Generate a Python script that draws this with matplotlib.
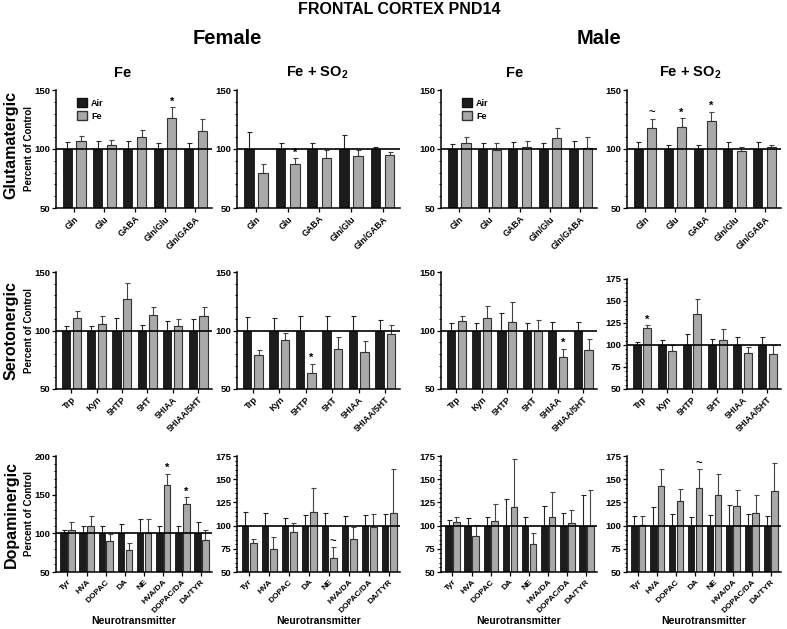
import numpy as np
import matplotlib
matplotlib.use('Agg')
import matplotlib.pyplot as plt
from matplotlib.ticker import MultipleLocator
from matplotlib.patches import Patch

plt.rcParams['font.family'] = ['Liberation Sans', 'DejaVu Sans']
plt.rcParams['font.weight'] = 'bold'
plt.rcParams['mathtext.fontset'] = 'custom'
plt.rcParams['mathtext.rm'] = 'Liberation Sans:bold'
plt.rcParams['mathtext.bf'] = 'Liberation Sans:bold'
plt.rcParams['mathtext.it'] = 'Liberation Sans:bold'

# 数据: Air 均为 100，误差为向上的 SEM
glut_labels = ['Gln', 'Glu', 'GABA', 'Gln/Glu', 'Gln/GABA']
sero_labels = ['Trp', 'Kyn', '5HTP', '5HT', '5HIAA', '5HIAA/5HT']
dopa_labels = ['Tyr', 'HVA', 'DOPAC', 'DA', 'NE', 'HVA/DA', 'DOPAC/DA', 'DA/TYR']

# Glutamatergic
f_fe_glut_air_sem = [6, 7, 7, 5, 5]
f_fe_glut_fe = [107, 103, 110, 126, 115]
f_fe_glut_fe_sem = [4, 5, 6, 9.5, 10.5]
f_so2_glut_air_sem = [14, 5, 5, 12, 2]
f_so2_glut_fe = [80, 87, 92, 94, 94.5]
f_so2_glut_fe_sem = [7, 5, 7, 5.5, 3]
m_fe_glut_air_sem = [4, 5, 6, 5, 6.5]
m_fe_glut_fe = [105, 99.5, 102, 109, 100.5]
m_fe_glut_fe_sem = [5.5, 5.5, 5, 9, 10]
m_so2_glut_air_sem = [6, 3.5, 3.5, 6, 6]
m_so2_glut_fe = [117.5, 119, 123.5, 98, 102]
m_so2_glut_fe_sem = [8, 7, 8, 4, 1.5]

# Serotonergic
f_fe_sero_air_sem = [4, 4, 11, 5, 8, 9.5]
f_fe_sero_fe = [111, 105.5, 126.5, 113, 104, 112]
f_fe_sero_fe_sem = [6, 6.5, 14, 7.5, 5.5, 8]
f_so2_sero_air_sem = [11.5, 11, 12.5, 12.5, 12, 9]
f_so2_sero_fe = [79, 92, 63.5, 84, 81.5, 97]
f_so2_sero_fe_sem = [4.5, 6, 8, 10.5, 9.5, 7.5]
m_fe_sero_air_sem = [6, 6.5, 15, 6, 7, 7]
m_fe_sero_fe = [108.5, 110.5, 107, 100, 77, 83]
m_fe_sero_fe_sem = [4, 10.5, 17.5, 9, 7.5, 10]
m_so2_sero_air_sem = [3, 6, 13, 6.5, 9.5, 9.5]
m_so2_sero_fe = [119, 93.5, 135.5, 105.5, 90.5, 90]
m_so2_sero_fe_sem = [3.5, 6, 17, 13, 7, 9.5]

# Dopaminergic
f_fe_dopa_air_sem = [4, 10, 10, 12.5, 18, 10, 9, 15]
f_fe_dopa_fe = [104, 110, 90.5, 78.5, 100, 162.5, 137.5, 91]
f_fe_dopa_fe_sem = [10.5, 12.5, 8, 9.5, 18, 14.5, 9, 13]
f_so2_dopa_air_sem = [14.5, 13.5, 8.5, 11.5, 13.5, 10.5, 11, 12]
f_so2_dopa_fe = [81, 75, 93.5, 115, 65, 86, 98.5, 114]
f_so2_dopa_fe_sem = [5, 13, 9.5, 26, 11.5, 13, 14.5, 47]
m_fe_dopa_air_sem = [5.5, 8.5, 9.5, 28.5, 9.5, 21, 14, 33.5]
m_fe_dopa_fe = [103.5, 88.5, 104.5, 120, 80, 109.5, 102.5, 99.5]
m_fe_dopa_fe_sem = [6, 12.5, 19, 51.5, 11.5, 26.5, 14.5, 38.5]
m_so2_dopa_air_sem = [10.5, 20.5, 13, 9.5, 11, 22, 13, 10.5]
m_so2_dopa_fe = [100.5, 142.5, 127, 140.5, 133.5, 121.5, 113.5, 137]
m_so2_dopa_fe_sem = [9.5, 18, 12.5, 20, 22, 16.5, 19, 30]

# 显著性标记 (组序号, 符号)
f_fe_glut_marks = [(3, '*')]
f_so2_glut_marks = [(1, '*')]
m_so2_glut_marks = [(0, '~'), (1, '*'), (2, '*')]
f_so2_sero_marks = [(2, '*')]
m_fe_sero_marks = [(4, '*')]
m_so2_sero_marks = [(0, '*')]
f_fe_dopa_marks = [(5, '*'), (6, '*')]
f_so2_dopa_marks = [(4, '~')]
m_so2_dopa_marks = [(3, '~')]

W, H = 787, 629
fig = plt.figure(figsize=(W / 100, H / 100), dpi=100)

def rect(l, t, r, b):
    return [l / W, 1 - b / H, (r - l) / W, (b - t) / H]

cols = [(56, 212), (237, 400), (441, 597), (627, 781)]
AIR_C = '#1c1c1c'
FE_C = '#a9a9a9'


def panel(col, top, bottom, labels, air_sem, fe, fe_sem, ylim, major, minor,
          bw, off, marks=(), legend=False, ylabel=False, xlabel=False, xfs=6.3):
    ax = fig.add_axes(rect(cols[col][0], top, cols[col][1], bottom))
    n = len(labels)
    x = np.arange(n)
    air = np.full(n, 100.0)
    ax.bar(x - off / 2, air, bw, color=AIR_C, edgecolor='#111111', lw=0.6, zorder=2, label='Air')
    ax.bar(x + off / 2, fe, bw, color=FE_C, edgecolor='#333333', lw=0.8, zorder=2, label='Fe')
    ax.errorbar(x - off / 2, air, yerr=[np.zeros(n), air_sem], fmt='none', ecolor='#222222',
                elinewidth=0.8, capsize=1.8, capthick=0.8, zorder=1)
    ax.errorbar(x + off / 2, fe, yerr=[np.zeros(n), fe_sem], fmt='none', ecolor='#444444',
                elinewidth=0.8, capsize=1.8, capthick=0.8, zorder=1)
    ax.axhline(100, color='k', lw=1.2, zorder=3)
    for i, s in marks:
        ax.annotate(s, (x[i] + off / 2, fe[i] + fe_sem[i]), xytext=(0, 0.5),
                    textcoords='offset points', ha='center', va='bottom', fontsize=8)
    ax.set_xlim(-0.6, n - 0.45)
    ax.set_ylim(*ylim)
    ax.yaxis.set_major_locator(MultipleLocator(major))
    ax.yaxis.set_minor_locator(MultipleLocator(minor))
    ax.set_xticks(x)
    ax.set_xticklabels(labels, rotation=45, ha='right', rotation_mode='anchor', fontsize=xfs)
    ax.tick_params(axis='y', labelsize=6.8, length=3, width=0.9, pad=1)
    ax.tick_params(axis='y', which='minor', length=1.6, width=0.7)
    ax.tick_params(axis='x', length=3, width=0.9, pad=1.5)
    for s in ['top', 'right']:
        ax.spines[s].set_visible(False)
    for s in ['left', 'bottom']:
        ax.spines[s].set_linewidth(1.1)
    if legend:
        ax.legend(handles=[Patch(facecolor=AIR_C, edgecolor='#111111', label='Air'),
                           Patch(facecolor=FE_C, edgecolor='#333333', label='Fe')],
                  loc='upper left', bbox_to_anchor=(0.08, 1.0), frameon=False, fontsize=6.5,
                  handlelength=1.1, handleheight=1.1, handletextpad=0.5, labelspacing=0.4)
    if ylabel:
        fig.text(29 / W, 1 - (top + bottom) / 2 / H, 'Percent of Control', rotation=90,
                 ha='center', va='center', fontsize=7)
    if xlabel:
        xc = (cols[col][0] + cols[col][1]) / 2
        fig.text(xc / W, 1 - 621 / H, 'Neurotransmitter', ha='center', va='center', fontsize=7.5)
    return ax


r1 = (90, 208)
panel(0, *r1, glut_labels, f_fe_glut_air_sem, f_fe_glut_fe, f_fe_glut_fe_sem, (50, 150), 50, 10,
      0.3, 0.45, f_fe_glut_marks, legend=True, ylabel=True)
panel(1, *r1, glut_labels, f_so2_glut_air_sem, f_so2_glut_fe, f_so2_glut_fe_sem, (50, 150), 50, 10,
      0.3, 0.45, f_so2_glut_marks)
panel(2, *r1, glut_labels, m_fe_glut_air_sem, m_fe_glut_fe, m_fe_glut_fe_sem, (50, 150), 50, 10,
      0.3, 0.45, legend=True)
panel(3, *r1, glut_labels, m_so2_glut_air_sem, m_so2_glut_fe, m_so2_glut_fe_sem, (50, 150), 50, 10,
      0.3, 0.45, m_so2_glut_marks)

panel(0, 272, 389, sero_labels, f_fe_sero_air_sem, f_fe_sero_fe, f_fe_sero_fe_sem, (50, 150), 50, 10,
      0.32, 0.43, ylabel=True)
panel(1, 272, 389, sero_labels, f_so2_sero_air_sem, f_so2_sero_fe, f_so2_sero_fe_sem, (50, 150), 50, 10,
      0.32, 0.43, f_so2_sero_marks)
panel(2, 272, 389, sero_labels, m_fe_sero_air_sem, m_fe_sero_fe, m_fe_sero_fe_sem, (50, 150), 50, 10,
      0.32, 0.43, m_fe_sero_marks)
panel(3, 279, 389, sero_labels, m_so2_sero_air_sem, m_so2_sero_fe, m_so2_sero_fe_sem, (50, 175), 25, 5,
      0.32, 0.43, m_so2_sero_marks)

r3 = (456, 572)
panel(0, *r3, dopa_labels, f_fe_dopa_air_sem, f_fe_dopa_fe, f_fe_dopa_fe_sem, (50, 200), 50, 10,
      0.34, 0.41, f_fe_dopa_marks, ylabel=True, xlabel=True, xfs=6)
panel(1, *r3, dopa_labels, f_so2_dopa_air_sem, f_so2_dopa_fe, f_so2_dopa_fe_sem, (50, 175), 25, 5,
      0.34, 0.41, f_so2_dopa_marks, xlabel=True, xfs=6)
panel(2, *r3, dopa_labels, m_fe_dopa_air_sem, m_fe_dopa_fe, m_fe_dopa_fe_sem, (50, 175), 25, 5,
      0.34, 0.41, xlabel=True, xfs=6)
panel(3, *r3, dopa_labels, m_so2_dopa_air_sem, m_so2_dopa_fe, m_so2_dopa_fe_sem, (50, 175), 25, 5,
      0.34, 0.41, m_so2_dopa_marks, xlabel=True, xfs=6)

# 标题
fig.text(399 / W, 1 - 10 / H, 'FRONTAL CORTEX PND14', ha='center', va='center', fontsize=11.5)
fig.text(227 / W, 1 - 38 / H, 'Female', ha='center', va='center', fontsize=14.5)
fig.text(599 / W, 1 - 38 / H, 'Male', ha='center', va='center', fontsize=14.5)
for xc, t in zip([123, 317, 515, 690], ['Fe', r'Fe + SO$_{\mathbf{2}}$', 'Fe', r'Fe + SO$_{\mathbf{2}}$']):
    fig.text(xc / W, 1 - 73 / H, t, ha='center', va='center', fontsize=10.5)
for yc, t in zip([145, 331, 515], ['Glutamatergic', 'Serotonergic', 'Dopaminergic']):
    fig.text(11 / W, 1 - yc / H, t, rotation=90, ha='center', va='center', fontsize=11.5)

plt.savefig('out.png', dpi=100)
